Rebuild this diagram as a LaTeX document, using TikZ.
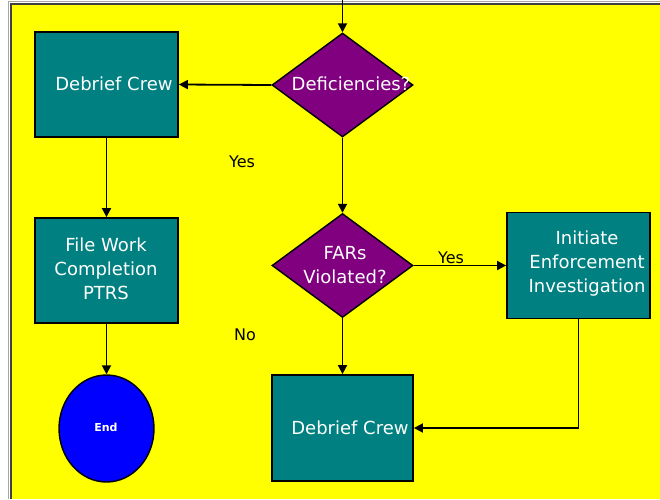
\documentclass[tikz,border=0pt]{standalone}
\usepackage{fontspec}
\setmainfont{DejaVu Sans}
\usetikzlibrary{shapes.geometric,arrows.meta}
\definecolor{bgyellow}{HTML}{FFFF00}
\definecolor{boxteal}{HTML}{008080}
\definecolor{decpurple}{HTML}{800080}
\definecolor{endblue}{HTML}{0000FF}
\begin{document}
\begin{tikzpicture}[x=1pt,y=-1pt,
  procbox/.style={draw=black, line width=1.8pt, fill=boxteal, inner sep=0pt,
    minimum width=143pt, minimum height=105pt},
  decision/.style={diamond, draw=black, line width=1.4pt, fill=decpurple,
    inner sep=0pt, minimum width=141pt, minimum height=104pt},
  terminal/.style={ellipse, draw=black, line width=1.4pt, fill=endblue,
    inner sep=0pt, minimum width=95pt, minimum height=107pt},
  boxtext/.style={text=white, font=\fontsize{18}{24}\selectfont, align=center, inner sep=0pt},
  flow/.style={draw=black, line width=1.8pt, -{Triangle[length=9pt,width=9pt]}},
  note/.style={text=black, font=\fontsize{16}{20}\selectfont, inner sep=0pt}]
\useasboundingbox (0,0) rectangle (660,499);
% page and frame
\fill[white] (0,0) rectangle (660,499);
\fill[bgyellow] (10,3) rectangle (660,499);
\draw[black!35, line width=1pt] (8.5,499) -- (8.5,1.5) -- (660,1.5);
\draw[black!75, line width=2pt] (11,499) -- (11,3.5) -- (660,3.5);

% shapes
\node[procbox] (crew1) at (106.5,84.5) {};
\node[decision] (dec1) at (342.5,85) {};
\node[procbox] (filework) at (106.5,270.5) {};
\node[terminal] (endc) at (106.5,428.5) {};
\node[decision] (dec2) at (342.5,265.5) {};
\node[procbox, minimum height=106pt] (init) at (578.5,265.5) {};
\node[procbox, minimum width=141pt, minimum height=106pt] (crew2) at (342.5,428) {};

% texts
\node[boxtext] (t1) at (114,84) {Debrief Crew};
\node[boxtext] (t2) at (351,84) {Deficiencies?};
\node[boxtext] (t3) at (106,269) {File Work\\Completion\\PTRS};
\node[boxtext, font=\fontsize{11}{12}\selectfont\bfseries] (t4) at (106,427) {End};
\node[boxtext] (t5) at (345,265) {FARs\\Violated?};
\node[boxtext] (t6) at (587,264) {Initiate\\Enforcement\\Investigation};
\node[boxtext] (t7) at (350,428) {Debrief Crew};

\node[note] (yes1) at (242,162) {Yes};
\node[note] (no1) at (245,335) {No};
\node[note] (yes2) at (451,258) {Yes};

% connectors
\coordinate (entry) at (342.5,0);
\draw[flow] (entry) -- (dec1.north);
\draw[flow] (dec1.west) -- (crew1.east);
\draw[flow] (crew1.south) -- (filework.north);
\draw[flow] (filework.south) -- (endc.north);
\draw[flow] (dec1.south) -- (dec2.north);
\draw[flow] (dec2.east) -- (init.west);
\draw[flow] (dec2.south) -- (crew2.north);
\draw[flow] (init.south) |- (crew2.east);
\end{tikzpicture}
\end{document}
